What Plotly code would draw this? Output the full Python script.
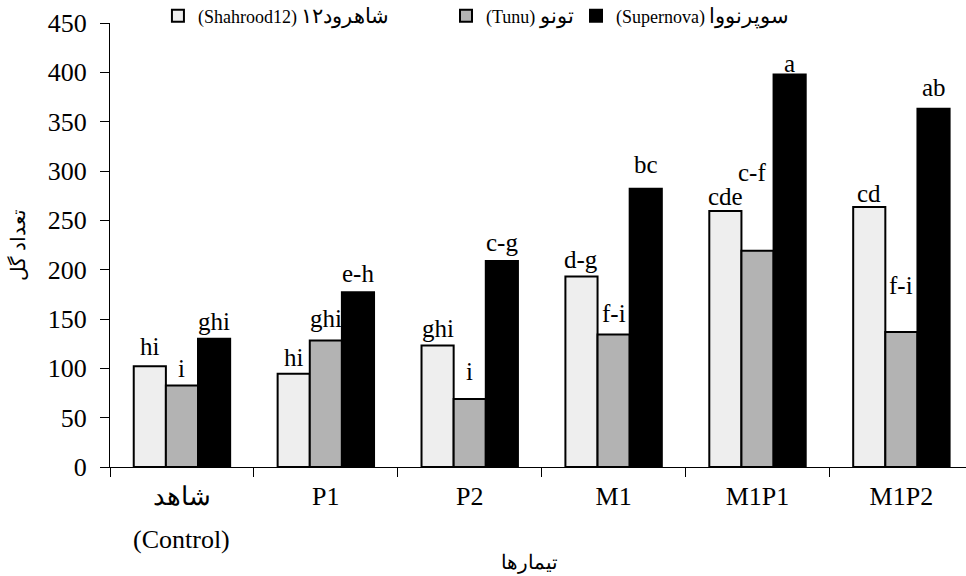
import plotly.graph_objects as go

# ---- data ----
categories = ["شاهد", "P1", "P2", "M1", "M1P1", "M1P2"]
series_latin = ["(Shahrood12)", "(Tunu)", "(Supernova)"]
series_local = ["شاهرود۱۲", "تونو", "سوپرنووا"]
shahrood12 = [102, 94.6, 123.2, 193.2, 259.4, 263.5]
tunu = [82.7, 128.3, 68.9, 134.4, 219.2, 136.8]
supernova = [130, 177, 208.8, 282, 397.9, 363.1]
letters_shahrood12 = ["hi", "hi", "ghi", "d-g", "cde", "cd"]
letters_tunu = ["i", "ghi", "i", "f-i", "c-f", "f-i"]
letters_supernova = ["ghi", "e-h", "c-g", "bc", "a", "ab"]
y_ticks = [0, 50, 100, 150, 200, 250, 300, 350, 400, 450]

# label vertical lift above bar tops (pixels) - styling only
lift_shahrood12 = [20, 16, 17, 17, 15, 14]
lift_tunu = [17, 22, 28, 21, 78, 47]
lift_supernova = [17, 19, 18, 24, 11, 21]

FONT = "Liberation Serif, Times New Roman, serif"
colors = ["#eeeeee", "#b3b3b3", "#000000"]
values = [shahrood12, tunu, supernova]
letters = [letters_shahrood12, letters_tunu, letters_supernova]
lifts = [lift_shahrood12, lift_tunu, lift_supernova]
legend_ids = ["legend", "legend2", "legend3"]
legend_x = [0.056, 0.3925, 0.5444]

bargap = 0.33
bw = (1 - bargap) / 3

fig = go.Figure()
for lat, loc, vals, col, lid in zip(series_latin, series_local, values, colors, legend_ids):
    fig.add_trace(go.Bar(
        x=categories, y=vals,
        name=f"{lat} <span style='font-size:21px'>{loc}</span>",
        marker=dict(color=col, line=dict(color="black", width=2)),
        legend=lid,
    ))

annotations = []
for k in range(3):
    for i, cat in enumerate(categories):
        xs = -6 if letters[k][i] == "c-f" else 0
        annotations.append(dict(
            x=i + (k - 1) * bw, y=values[k][i], xref="x", yref="y",
            text=letters[k][i], showarrow=False, yanchor="middle", xanchor="center",
            yshift=lifts[k][i], xshift=xs,
            font=dict(family=FONT, size=25, color="black"),
        ))

# second line of first category label
annotations.append(dict(
    x=0, y=0, xref="x", yref="paper", yshift=-72, text="(Control)", showarrow=False,
    yanchor="middle", font=dict(family=FONT, size=26, color="black"),
))
# axis titles
annotations.append(dict(
    x=0.49, y=0, xref="paper", yref="paper", yshift=-95, text="تیمارها", showarrow=False,
    yanchor="middle", font=dict(family=FONT, size=20, color="black"),
))
annotations.append(dict(
    x=0, y=0.5, xref="paper", yref="paper", xshift=-92, text="تعداد گل", showarrow=False,
    textangle=-90, xanchor="center", yanchor="middle",
    font=dict(family=FONT, size=20, color="black"),
))

legend_common = dict(
    orientation="h", y=1.0158, xanchor="left", yanchor="middle",
    font=dict(family=FONT, size=18, color="black"),
    bgcolor="rgba(0,0,0,0)", itemclick=False, itemdoubleclick=False,
)

fig.update_layout(
    width=966, height=576,
    margin=dict(l=110, r=0, t=23, b=109, autoexpand=False),
    paper_bgcolor="white", plot_bgcolor="white",
    barmode="group", bargap=bargap, bargroupgap=0,
    font=dict(family=FONT, color="black"),
    showlegend=True,
    legend=dict(x=legend_x[0], **legend_common),
    legend2=dict(x=legend_x[1], **legend_common),
    legend3=dict(x=legend_x[2], **legend_common),
    annotations=annotations,
)
fig.update_xaxes(
    type="category", categoryorder="array", categoryarray=categories,
    range=[-0.5, 5.449], tickson="boundaries", ticks="outside", ticklen=9,
    tickwidth=1, tickcolor="black", showline=True, linecolor="black", linewidth=1,
    showgrid=False, zeroline=False, ticklabelstandoff=6,
    tickfont=dict(family=FONT, size=26, color="black"),
)
fig.update_yaxes(
    range=[0, 450], tickvals=y_ticks, ticks="outside", ticklen=9, tickwidth=1,
    tickcolor="black", showline=True, linecolor="black", linewidth=1,
    showgrid=False, zeroline=False, ticklabelstandoff=8,
    tickfont=dict(family=FONT, size=26, color="black"),
)

fig.write_html(
    "out.html",
    config={"displayModeBar": False},
    post_script="document.body.style.margin='0';document.body.style.overflow='hidden';",
)
